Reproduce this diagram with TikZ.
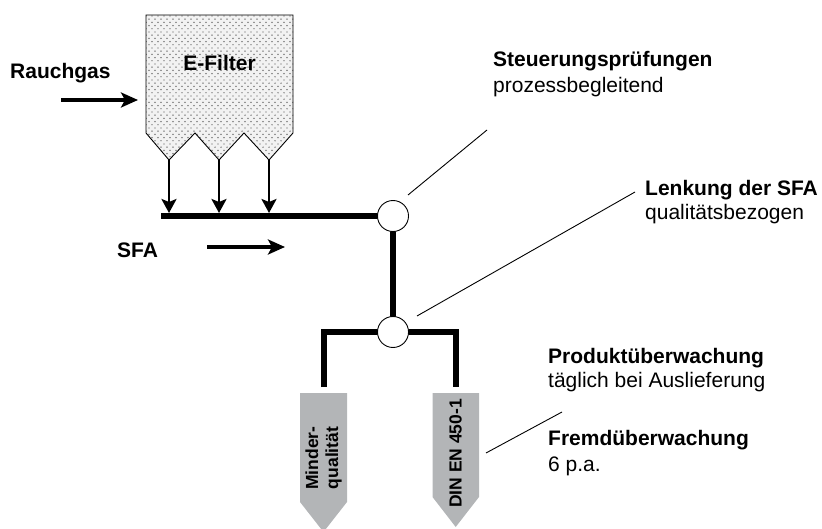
\documentclass[tikz,border=0pt]{standalone}
\usepackage{fontspec}
\setmainfont{Liberation Sans}
\usetikzlibrary{arrows.meta}
\definecolor{chute}{RGB}{179,181,183}
\definecolor{dustbg}{RGB}{242,242,242}
\definecolor{dustdot}{RGB}{80,80,80}

\begin{document}
\begin{tikzpicture}[x=1pt,y=-1pt,
  head/.style={font=\fontsize{21}{24}\selectfont\bfseries, inner sep=0pt, anchor=base west},
  sub/.style={font=\fontsize{21}{24}\selectfont, inner sep=0pt, anchor=base west},
  flow/.style={line width=3.5pt, -{Stealth[length=17pt,width=15pt,inset=4pt]}},
  drop/.style={line width=2.6pt, -{Stealth[length=14pt,width=15pt,inset=3pt]}},
  mainline/.style={line width=6.5pt, line join=miter},
  lead/.style={line width=0.9pt},
  junction/.style={circle, draw, line width=0.9pt, fill=white, minimum size=31pt, inner sep=0pt},
  chutelabel/.style={font=\fontsize{17.5}{20}\selectfont\bfseries, rotate=90, align=center, inner sep=0pt}]

\useasboundingbox (0,0) rectangle (822,529);
\clip (0,0) rectangle (822,529);

% electrostatic precipitator with three hoppers
\def\filterpath{(146,15) -- (293,15) -- (293,133) -- (269,160) -- (244,133) -- (219,160) -- (195,133) -- (169,160) -- (146,133) -- cycle}
\fill[dustbg] \filterpath;
\begin{scope}
  \clip \filterpath;
  \foreach \j in {0,...,45} {
    \foreach \i in {0,...,25} {
      \fill[dustdot] ({146+6*\i+3*mod(\j,2)}, {16+3.2*\j}) circle[radius=0.7pt];
    }
  }
\end{scope}
\draw[line width=0.9pt, line join=miter] \filterpath;
\node[font=\fontsize{21}{24}\selectfont\bfseries, inner sep=0pt, anchor=base] (efilter) at (219.5,71) {E-Filter};

% flue gas inlet
\node[head] (rauchgas) at (10,79) {Rauchgas};
\coordinate (gasin) at (61,100);
\coordinate (gasend) at (138,100);
\draw[flow] (gasin) -- (gasend);

% hopper discharges
\foreach \x [count=\k] in {169,219,269} {
  \coordinate (hop\k) at (\x,160);
  \coordinate (bar\k) at (\x,213);
  \draw[drop] (hop\k) -- (bar\k);
}

% fly ash conveying line
\coordinate (barL) at (161,216);
\coordinate (j1) at (393,216);
\coordinate (j2) at (393,332);
\coordinate (lf) at (324,387);
\coordinate (rf) at (456,387);
\draw[mainline] (barL) -- (j1) -- (j2);
\draw[mainline] (lf) -- (lf |- j2) -- (rf |- j2) -- (rf);
\node[junction] (c1) at (j1) {};
\node[junction] (c2) at (j2) {};

\node[head] (sfa) at (117,258) {SFA};
\coordinate (sfain) at (207,247);
\coordinate (sfaend) at (285,247);
\draw[flow] (sfain) -- (sfaend);

% product outlets
\fill[chute] (300,393) -- (347,393) -- (347,502) -- (323.5,532) -- (300,502) -- cycle;
\fill[chute] (432.5,393) -- (479,393) -- (479,497) -- (455.7,527) -- (432.5,497) -- cycle;
\node[chutelabel] (minder) at (323.5,458) {Minder-\\qualität};
\node[chutelabel] (din) at (455.5,453.5) {DIN EN 450-1};

% leader lines
\coordinate (l1a) at (408,195);
\coordinate (l1b) at (487,130);
\coordinate (l2a) at (417,316);
\coordinate (l2b) at (635,192);
\coordinate (l3a) at (486,453);
\coordinate (l3b) at (562,412);
\draw[lead] (l1a) -- (l1b);
\draw[lead] (l2a) -- (l2b);
\draw[lead] (l3a) -- (l3b);

% annotations
\node[head] (steu) at (493,67) {Steuerungsprüfungen};
\node[sub] (steusub) at (493,93) {prozessbegleitend};
\node[head] (lenk) at (645,196) {Lenkung der SFA};
\node[sub] (lenksub) at (645,220) {qualitätsbezogen};
\node[head] (prod) at (548,363) {Produktüberwachung};
\node[sub] (prodsub) at (548,387) {täglich bei Auslieferung};
\node[head] (fremd) at (548,445) {Fremdüberwachung};
\node[sub] (fremdsub) at (548,471) {6 p.a.};
\end{tikzpicture}
\end{document}
